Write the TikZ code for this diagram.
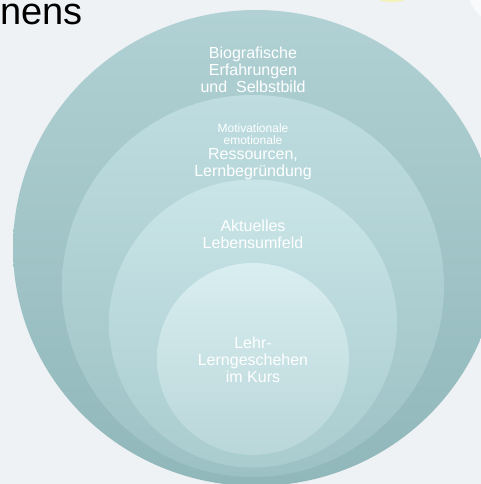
\documentclass[tikz,border=0pt]{standalone}
\usepackage{fontspec}
\setmainfont{Liberation Sans}
\usetikzlibrary{shapes.geometric}

\definecolor{paper}{HTML}{EEF2F5}
\definecolor{ringAtop}{HTML}{B1D1D4}
\definecolor{ringAbot}{HTML}{90B7BA}
\definecolor{ringBtop}{HTML}{BFDDE0}
\definecolor{ringBbot}{HTML}{9CC1C4}
\definecolor{ringCtop}{HTML}{CAE5E8}
\definecolor{ringCbot}{HTML}{A9CCCF}
\definecolor{ringDtop}{HTML}{D9EEF0}
\definecolor{ringDbot}{HTML}{B9D6D9}

\begin{document}
\begin{tikzpicture}[x=1pt, y=-1pt,
    ring/.style={ellipse, inner sep=0pt},
    ringtext/.style={text=white, align=center, inner sep=0pt,
      font=\fontsize{16}{17}\selectfont}]
  \fill[paper] (0,0) rectangle (481,484);
  \useasboundingbox (0,0) rectangle (481,484);

  % bits of the neighbouring slide content
  \fill[white!60!paper] (520,-10) ellipse (52 and 40);
  \fill[yellow!25!paper] (392,-4) ellipse (18 and 6);

  % title
  \node[anchor=base west, inner sep=0pt, font=\fontsize{38}{40}\selectfont]
    (title) at (0,25) {nens};

  % nested rings, outer to inner
  \node[ring, minimum width=486, minimum height=476,
    top color=ringAtop, bottom color=ringAbot] (biografie) at (256,248) {};
  \node[ring, minimum size=382,
    top color=ringBtop, bottom color=ringBbot] (ressourcen) at (253,286) {};
  \node[ring, minimum size=288,
    top color=ringCtop, bottom color=ringCbot] (umfeld) at (253,323.5) {};
  \node[ring, minimum size=192,
    top color=ringDtop, bottom color=ringDbot] (kurs) at (253,359) {};

  % ring labels
  \node[ringtext] (biografietext) at (253,70)
    {Biografische\\Erfahrungen\\und\ \ Selbstbild};
  \node[ringtext, font=\fontsize{12}{11.5}\selectfont] (motivtext) at (253,134)
    {Motivationale\\emotionale};
  \node[ringtext] (ressourcentext) at (253,164.5)
    {Ressourcen,\\Lernbegr\"undung};
  \node[ringtext] (umfeldtext) at (253,234.5)
    {Aktuelles\\Lebensumfeld};
  \node[ringtext] (kurstext) at (253,360)
    {Lehr-\\Lerngeschehen\\im Kurs};
\end{tikzpicture}
\end{document}
